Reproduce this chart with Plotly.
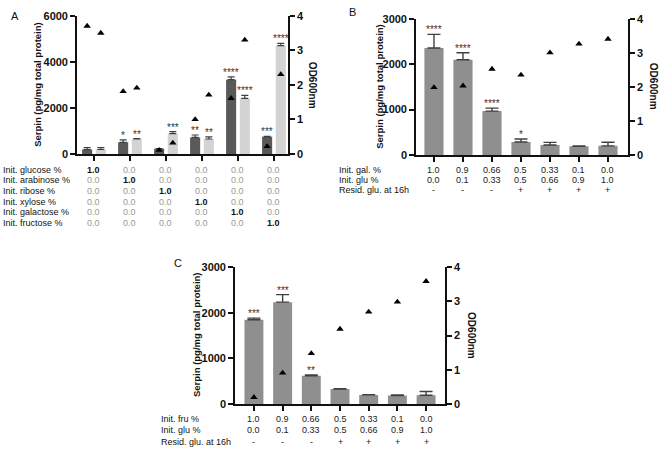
import plotly.graph_objects as go

# ---------------- data ----------------
# Panel A
a_sugars = ["glucose", "arabinose", "ribose", "xylose", "galactose", "fructose"]
a_dark = [190, 505, 225, 720, 3225, 745]
a_dark_err = [85, 105, 10, 105, 125, 20]
a_light = [195, 650, 880, 650, 2410, 4700]
a_light_err = [85, 15, 90, 90, 135, 100]
a_dark_od = [3.70, 1.81, 0.11, 1.00, 1.61, 0.22]
a_light_od = [3.50, 1.91, 0.32, 1.71, 3.30, 2.30]
a_dark_sig = ["", "*", "", "**", "****", "***"]
a_light_sig = ["", "**", "***", "**", "****", "****"]
a_row_labels = ["Init. glucose %", "Init. arabinose %", "Init. ribose %",
                "Init. xylose %", "Init. galactose %", "Init. fructose %"]

# Panel B
b_serpin = [2355, 2095, 965, 285, 220, 193, 200]
b_err = [300, 155, 65, 65, 58, 8, 80]
b_od = [1.98, 2.03, 2.52, 2.35, 3.00, 3.26, 3.40]
b_sig = ["****", "****", "****", "*", "", "", ""]
b_gal = ["1.0", "0.9", "0.66", "0.5", "0.33", "0.1", "0.0"]
b_glu = ["0.0", "0.1", "0.33", "0.5", "0.66", "0.9", "1.0"]
b_resid = ["-", "-", "-", "+", "+", "+", "+"]
b_row_labels = ["Init. gal. %", "Init. glu %", "Resid. glu. at 16h"]

# Panel C
c_serpin = [1845, 2230, 623, 333, 203, 188, 196]
c_err = [35, 165, 15, 5, 5, 15, 80]
c_od = [0.20, 0.91, 1.48, 2.19, 2.69, 2.98, 3.58]
c_sig = ["***", "***", "**", "", "", "", ""]
c_fru = ["1.0", "0.9", "0.66", "0.5", "0.33", "0.1", "0.0"]
c_glu = ["0.0", "0.1", "0.33", "0.5", "0.66", "0.9", "1.0"]
c_resid = ["-", "-", "-", "+", "+", "+", "+"]
c_row_labels = ["Init. fru %", "Init. glu %", "Resid. glu. at 16h"]

serpin_title = "Serpin (pg/mg total protein)"
od_title = "OD600nm"

# ---------------- helpers ----------------
W, H = 660, 454
FONT = "Liberation Sans, Arial, sans-serif"
DARK = "#595959"
LIGHT = "#d3d3d3"
MID = "#8f8f8f"
ERRC = "#404040"


def px(x):
    return x / W


def py(y):
    return 1 - y / H


fig = go.Figure()
annots = []
err_a = dict(type="data", symmetric=False, color=ERRC, thickness=1.2, width=3.5)
err_bc = dict(type="data", symmetric=False, color=ERRC, thickness=1.4, width=6.5)
tri = dict(symbol="triangle-up", size=6.5, color="black")
star_font = dict(size=10, color="#333", family=FONT)

# ---------------- Panel A ----------------
nA = len(a_sugars)
xa = list(range(nA))
bw_a = 0.28
half_a = 0.19

fig.add_trace(go.Bar(x=xa, y=a_dark, width=bw_a, offset=-half_a - bw_a / 2,
                     marker=dict(color=DARK, line=dict(width=0)),
                     error_y=dict(array=a_dark_err, arrayminus=[0] * nA, **err_a),
                     xaxis="x", yaxis="y", showlegend=False))
fig.add_trace(go.Bar(x=xa, y=a_light, width=bw_a, offset=half_a - bw_a / 2,
                     marker=dict(color=LIGHT, line=dict(width=0)),
                     error_y=dict(array=a_light_err, arrayminus=[0] * nA, **err_a),
                     xaxis="x", yaxis="y", showlegend=False))
fig.add_trace(go.Scatter(x=[i - half_a for i in xa], y=a_dark_od, mode="markers",
                         marker=tri, xaxis="x", yaxis="y2", showlegend=False))
fig.add_trace(go.Scatter(x=[i + half_a for i in xa], y=a_light_od, mode="markers",
                         marker=tri, xaxis="x", yaxis="y2", showlegend=False))

for i in xa:
    for sig, val, err, sx in ((a_dark_sig[i], a_dark[i], a_dark_err[i], -half_a),
                              (a_light_sig[i], a_light[i], a_light_err[i], half_a)):
        if sig:
            annots.append(dict(x=i + sx, y=val + err, xref="x", yref="y", text=sig,
                               showarrow=False, yanchor="bottom", yshift=-3,
                               font=star_font))

# table A
rows_y_a = [168, 179, 190, 201, 212, 223]
for r, lab in enumerate(a_row_labels):
    annots.append(dict(x=px(1), y=py(rows_y_a[r]), xref="paper", yref="paper",
                       text=lab, showarrow=False, xanchor="left", yanchor="middle",
                       font=dict(size=9, color="#111", family=FONT)))
    for c in xa:
        on = (r == c)
        annots.append(dict(x=c, y=py(rows_y_a[r]), xref="x", yref="paper",
                           text="<b>1.0</b>" if on else "0.0", showarrow=False,
                           xanchor="center", yanchor="middle",
                           font=dict(size=9, color="#111" if on else "#9a9a9a", family=FONT)))

# ---------------- Panel B ----------------
nB = len(b_serpin)
xb = list(range(nB))
fig.add_trace(go.Bar(x=xb, y=b_serpin, width=0.66,
                     marker=dict(color=MID, line=dict(width=0)),
                     error_y=dict(array=b_err, arrayminus=[0] * nB, **err_bc),
                     xaxis="x2", yaxis="y3", showlegend=False))
fig.add_trace(go.Scatter(x=xb, y=b_od, mode="markers", marker=tri,
                         xaxis="x2", yaxis="y4", showlegend=False))
for i in xb:
    if b_sig[i]:
        annots.append(dict(x=i, y=b_serpin[i] + b_err[i], xref="x2", yref="y3",
                           text=b_sig[i], showarrow=False, yanchor="bottom", yshift=-3,
                           font=star_font))
rows_y_b = [168, 179, 189]
for r, (lab, vals) in enumerate(zip(b_row_labels, [b_gal, b_glu, b_resid])):
    annots.append(dict(x=px(337), y=py(rows_y_b[r]), xref="paper", yref="paper",
                       text=lab, showarrow=False, xanchor="left", yanchor="middle",
                       font=dict(size=9, color="#111", family=FONT)))
    for c in xb:
        annots.append(dict(x=c, y=py(rows_y_b[r]), xref="x2", yref="paper",
                           text=vals[c], showarrow=False, xanchor="center", yanchor="middle",
                           font=dict(size=9, color="#222", family=FONT)))

# ---------------- Panel C ----------------
nC = len(c_serpin)
xc = list(range(nC))
fig.add_trace(go.Bar(x=xc, y=c_serpin, width=0.66,
                     marker=dict(color=MID, line=dict(width=0)),
                     error_y=dict(array=c_err, arrayminus=[0] * nC, **err_bc),
                     xaxis="x3", yaxis="y5", showlegend=False))
fig.add_trace(go.Scatter(x=xc, y=c_od, mode="markers", marker=tri,
                         xaxis="x3", yaxis="y6", showlegend=False))
for i in xc:
    if c_sig[i]:
        annots.append(dict(x=i, y=c_serpin[i] + c_err[i], xref="x3", yref="y5",
                           text=c_sig[i], showarrow=False, yanchor="bottom", yshift=-3,
                           font=star_font))
rows_y_c = [424, 436, 448]
for r, (lab, vals) in enumerate(zip(c_row_labels, [c_fru, c_glu, c_resid])):
    annots.append(dict(x=px(159), y=py(rows_y_c[r]), xref="paper", yref="paper",
                       text=lab, showarrow=False, xanchor="left", yanchor="middle",
                       font=dict(size=9, color="#111", family=FONT)))
    for c in xc:
        annots.append(dict(x=c, y=py(rows_y_c[r]), xref="x3", yref="paper",
                           text=vals[c], showarrow=False, xanchor="center", yanchor="middle",
                           font=dict(size=9, color="#222", family=FONT)))

# ---------------- titles & letters ----------------
for (lx, ly, t) in ((15, 10, "A"), (353, 6, "B"), (178, 264, "C")):
    annots.append(dict(x=px(lx), y=py(ly), xref="paper", yref="paper", text=t,
                       showarrow=False, xanchor="center", yanchor="middle",
                       font=dict(size=11, color="#111", family=FONT)))
for (tx, ty) in ((38, 81), (380, 83), (196, 338)):
    annots.append(dict(x=px(tx), y=py(ty), xref="paper", yref="paper",
                       text="<b>%s</b>" % serpin_title, textangle=-90, showarrow=False,
                       xanchor="center", yanchor="middle",
                       font=dict(size=9.5, color="#111", family=FONT)))
for (tx, ty) in ((312, 81), (653, 82), (472, 338)):
    annots.append(dict(x=px(tx), y=py(ty), xref="paper", yref="paper",
                       text="<b>%s</b>" % od_title, textangle=90, showarrow=False,
                       xanchor="center", yanchor="middle",
                       font=dict(size=10, color="#111", family=FONT)))

# ---------------- axes ----------------
tickfont = dict(size=11, color="#111", family=FONT, weight="bold")
base_y = dict(showline=True, linecolor="#111", linewidth=1.6, ticks="outside",
              ticklen=5, tickwidth=1.6, tickcolor="#111", showgrid=False,
              zeroline=False, tickfont=tickfont, fixedrange=True)
base_x = dict(showline=True, linecolor="#111", linewidth=1.6, ticks="outside",
              ticklen=5, tickwidth=1.6, tickcolor="#111", showgrid=False,
              zeroline=False, showticklabels=False, fixedrange=True)

fig.update_layout(
    width=W, height=H, margin=dict(l=0, r=0, t=0, b=0),
    paper_bgcolor="white", plot_bgcolor="white", barmode="overlay",
    font=dict(family=FONT), hovermode=False,
    xaxis=dict(domain=[px(77), px(288)], range=[-0.472, 5.39], anchor="y",
               tickvals=xa, **base_x),
    yaxis=dict(domain=[py(152), py(10)], range=[0, 6000], anchor="x",
               tickvals=[0, 2000, 4000, 6000], **base_y),
    yaxis2=dict(overlaying="y", side="right", anchor="x", range=[0, 4],
                tickvals=[0, 1, 2, 3, 4], **base_y),
    xaxis2=dict(domain=[px(416), px(628)], range=[-0.62, 6.69], anchor="y3",
                tickvals=xb, **base_x),
    yaxis3=dict(domain=[py(153), py(13)], range=[0, 3000], anchor="x2",
                tickvals=[0, 1000, 2000, 3000], **base_y),
    yaxis4=dict(overlaying="y3", side="right", anchor="x2", range=[0, 4],
                tickvals=[0, 1, 2, 3, 4], **base_y),
    xaxis3=dict(domain=[px(235), px(445)], range=[-0.66, 6.66], anchor="y5",
                tickvals=xc, **base_x),
    yaxis5=dict(domain=[py(409), py(268)], range=[0, 3000], anchor="x3",
                tickvals=[0, 1000, 2000, 3000], **base_y),
    yaxis6=dict(overlaying="y5", side="right", anchor="x3", range=[0, 4],
                tickvals=[0, 1, 2, 3, 4], **base_y),
    annotations=annots,
)

fig.write_html("out.html", config={"displayModeBar": False},
               post_script="document.body.style.margin='0';document.body.style.padding='0';")
